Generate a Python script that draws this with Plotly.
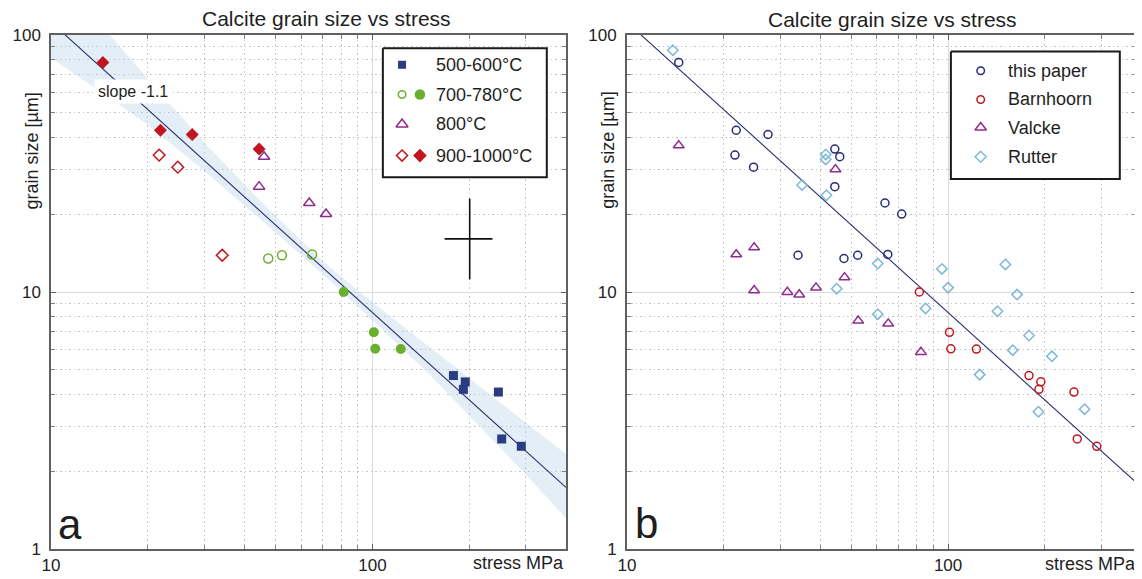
import numpy as np
import plotly.graph_objects as go

# ---------------- data (stress in MPa, grain size in µm) ----------------
# panel a, grouped by temperature (open symbols: this paper, filled: Barnhoorn)
T500_STRESS = [178.6, 194.4, 191.8, 246.5, 252.4, 290.4]
T500_GRAIN = [4.73, 4.47, 4.18, 4.08, 2.68, 2.51]
T700_OPEN_STRESS = [47.4, 52.3, 64.9]
T700_OPEN_GRAIN = [13.5, 13.9, 14.0]
T700_FILL_STRESS = [81.4, 101.0, 102.0, 122.5]
T700_FILL_GRAIN = [10.0, 6.97, 6.01, 6.0]
T800_STRESS = [46.0, 44.4, 63.6, 71.7]
T800_GRAIN = [33.6, 25.7, 22.2, 20.1]
T900_OPEN_STRESS = [21.7, 24.8, 34.1]
T900_OPEN_GRAIN = [34.1, 30.6, 13.9]
T900_FILL_STRESS = [14.5, 21.9, 27.5, 44.4]
T900_FILL_GRAIN = [78.2, 42.6, 41.0, 36.0]

# panel b, by source
VALCKE_STRESS = [14.5, 21.9, 24.9, 24.9, 31.6, 34.4, 38.8, 47.6, 44.6, 52.5, 65.1, 82.3]
VALCKE_GRAIN = [37.2, 14.0, 14.9, 10.15, 10.0, 9.77, 10.4, 11.4, 30.0, 7.73, 7.53, 5.84]
RUTTER_STRESS = [13.9, 41.6, 41.6, 35.1, 41.8, 60.4, 45.0, 95.7, 100.0, 150.8,
                 163.9, 85.1, 60.4, 142.5, 178.6, 158.9, 210.5, 125.4, 191.1, 266.0]
RUTTER_GRAIN = [87.3, 34.3, 32.8, 26.1, 23.8, 12.9, 10.3, 12.3, 10.4, 12.8,
                9.77, 8.63, 8.2, 8.42, 6.77, 5.94, 5.62, 4.77, 3.42, 3.5]

# piezometer fit  d = A * sigma^n
FIT_A = 1514.0
FIT_N = -1.13
FIT_STRESS = [10.0, 400.0]

# confidence band
BAND_STRESS = [10, 15, 20, 30, 45, 70, 100, 150, 200, 300, 400]
BAND_UPPER = [177.8, 102.6, 67.6, 38.1, 22.5, 13.18, 9.12, 6.11, 4.62, 3.10, 2.34]
BAND_LOWER = [81.3, 57.7, 44.7, 29.6, 19.1, 11.75, 7.76, 4.80, 3.31, 1.95, 1.32]

# error cross
ERR_STRESS, ERR_GRAIN = 200.7, 16.1
ERR_STRESS_LOHI = (167.7, 236.3)
ERR_GRAIN_LOHI = (11.2, 23.1)

LEGEND_A = ["500-600°C", "700-780°C", "800°C", "900-1000°C"]
LEGEND_B = ["this paper", "Barnhoorn", "Valcke", "Rutter"]
TITLE = "Calcite grain size vs stress"
X_TICKS = [10, 100]
Y_TICKS = [1, 10, 100]

# ---------------- styles ----------------
FONT = "Liberation Sans, Arial, Helvetica, sans-serif"
NAVY = "#2b3c80"
NAVY2 = "#2a2a78"
GREEN = "#6cae2d"
PURPLE = "#8e2c8e"
RED = "#c1161e"
LBLUE = "#7db9d6"
LINE = "#2d2e6e"

# page geometry: the page body has an 8px margin, so the figure starts at (8, 8)
OFF = 8
W, H = 1142 - OFF, 579 - OFF
ML, MR, MT, MB = 46 - OFF, 4, 35 - OFF, 26
PW, PH = W - ML - MR, H - MT - MB
# plot area in page pixels
PX0, PX1 = ML + OFF, ML + OFF + PW
PY0, PY1 = MT + OFF, MT + OFF + PH

def px_x(px):
    return (px - PX0) / PW

def px_y(py):
    return 1 - (py - PY0) / PH

fig = go.Figure()

def pts(x, y, xa, ya, symbol, color, size, lw=1.5):
    fig.add_trace(go.Scatter(
        x=x, y=y, xaxis=xa, yaxis=ya, mode="markers", showlegend=False,
        hoverinfo="skip",
        marker=dict(symbol=symbol, color=color, size=size,
                    line=dict(width=lw if symbol.endswith("open") else 0, color=color))))

# ---- panel a ----
bx = list(BAND_STRESS) + list(BAND_STRESS[::-1])
by = list(BAND_UPPER) + list(BAND_LOWER[::-1])
fig.add_trace(go.Scatter(x=bx, y=by, xaxis="x", yaxis="y", fill="toself",
                         fillcolor="rgba(185,212,235,0.40)", line=dict(width=0),
                         mode="lines", showlegend=False, hoverinfo="skip"))
fit_x = np.array(FIT_STRESS)
fit_y = FIT_A * fit_x ** FIT_N
fig.add_trace(go.Scatter(x=fit_x, y=fit_y, xaxis="x", yaxis="y", mode="lines",
                         line=dict(color=LINE, width=1.1), showlegend=False, hoverinfo="skip"))
fig.add_trace(go.Scatter(
    x=[ERR_STRESS], y=[ERR_GRAIN], xaxis="x", yaxis="y", mode="markers",
    marker=dict(size=1, color="rgba(0,0,0,0)"), showlegend=False, hoverinfo="skip",
    error_x=dict(type="data", symmetric=False, array=[ERR_STRESS_LOHI[1] - ERR_STRESS],
                 arrayminus=[ERR_STRESS - ERR_STRESS_LOHI[0]], color="#111111",
                 thickness=1.6, width=0),
    error_y=dict(type="data", symmetric=False, array=[ERR_GRAIN_LOHI[1] - ERR_GRAIN],
                 arrayminus=[ERR_GRAIN - ERR_GRAIN_LOHI[0]], color="#111111",
                 thickness=1.6, width=0)))

pts(T900_OPEN_STRESS, T900_OPEN_GRAIN, "x", "y", "diamond-open", RED, 9)
pts(T900_FILL_STRESS, T900_FILL_GRAIN, "x", "y", "diamond", RED, 10)
pts(T800_STRESS, T800_GRAIN, "x", "y", "triangle-up-open", PURPLE, 10)
pts(T700_OPEN_STRESS, T700_OPEN_GRAIN, "x", "y", "circle-open", GREEN, 9)
pts(T700_FILL_STRESS, T700_FILL_GRAIN, "x", "y", "circle", GREEN, 10)
pts(T500_STRESS, T500_GRAIN, "x", "y", "square", NAVY, 9)

# ---- panel b ----
fig.add_trace(go.Scatter(x=fit_x, y=fit_y, xaxis="x2", yaxis="y2", mode="lines",
                         line=dict(color=LINE, width=1.1), showlegend=False, hoverinfo="skip"))
PAPER_STRESS = T900_OPEN_STRESS + T900_FILL_STRESS + T800_STRESS + T700_OPEN_STRESS
PAPER_GRAIN = T900_OPEN_GRAIN + T900_FILL_GRAIN + T800_GRAIN + T700_OPEN_GRAIN
BARN_STRESS = T700_FILL_STRESS + T500_STRESS
BARN_GRAIN = T700_FILL_GRAIN + T500_GRAIN
pts(RUTTER_STRESS, RUTTER_GRAIN, "x2", "y2", "diamond-open", LBLUE, 8)
pts(VALCKE_STRESS, VALCKE_GRAIN, "x2", "y2", "triangle-up-open", PURPLE, 9.5)
pts(BARN_STRESS, BARN_GRAIN, "x2", "y2", "circle-open", RED, 8)
pts(PAPER_STRESS, PAPER_GRAIN, "x2", "y2", "circle-open", NAVY2, 8)

# ---- legends drawn in a pixel-coordinate overlay (x3/y3, page pixels) ----
def box(x0, x1, y0, y1):
    fig.add_trace(go.Scatter(x=[x0, x1, x1, x0, x0], y=[y0, y0, y1, y1, y0],
                             xaxis="x3", yaxis="y3", mode="lines", fill="toself",
                             fillcolor="white", line=dict(color="#1a1a1a", width=2),
                             showlegend=False, hoverinfo="skip"))

def lmark(x, y, symbol, color, size):
    pts([x], [y], "x3", "y3", symbol, color, size)

annotations = []

def text(x, y, s, size=18, xanchor="left", yanchor="middle", angle=0, bg=None, pad=1):
    d = dict(x=px_x(x), y=px_y(y), xref="paper", yref="paper", text=s, showarrow=False,
             xanchor=xanchor, yanchor=yanchor, textangle=angle,
             font=dict(family=FONT, size=size, color="#1e1e1e"), borderpad=pad)
    if bg:
        d["bgcolor"] = bg
    annotations.append(d)

box(380, 545, 48.3, 178.3)
rows_a = [65, 95, 125, 156.5]
lmark(399.3, rows_a[0], "square", NAVY, 8)
lmark(399.3, rows_a[1], "circle-open", GREEN, 7.5)
lmark(417.3, rows_a[1], "circle", GREEN, 10.5)
lmark(399.3, rows_a[2], "triangle-up-open", PURPLE, 10.5)
lmark(399.3, rows_a[3], "diamond-open", RED, 8.5)
lmark(417.3, rows_a[3], "diamond", RED, 10.5)
for lab, yy in zip(LEGEND_A, rows_a):
    text(431, yy, lab)

box(951.7, 1121.7, 51.7, 180)
rows_b = [71, 100, 128.3, 157.7]
lmark(981.7, rows_b[0], "circle-open", NAVY2, 7.5)
lmark(981.7, rows_b[1], "circle-open", RED, 7.5)
lmark(981.7, rows_b[2], "triangle-up-open", PURPLE, 10)
lmark(981.7, rows_b[3], "diamond-open", LBLUE, 8.5)
for lab, yy in zip(LEGEND_B, rows_b):
    text(1007.5, yy, lab)

# titles, labels
text(323.5, 18, TITLE, size=21, xanchor="center")
text(892.7, 19, TITLE, size=21, xanchor="center")
text(26.7, 151.7, "grain size [µm]", size=18, xanchor="center", angle=-90)
text(606.6, 151.6, "grain size [µm]", size=18, xanchor="center", angle=-90)
text(564, 567.5, "stress MPa", size=18, xanchor="right")
text(1140.5, 568.5, "stress MPa", size=18, xanchor="right")
text(65, 528, "a", size=42, xanchor="center")
text(645, 527, "b", size=42, xanchor="center")
text(128.3, 92.2, "slope -1.1", size=16, xanchor="center", bg="white", pad=3)

# ---------------- axes ----------------
minor_x = [20, 30, 40, 50, 60, 70, 80, 90, 200, 300]
minor_y = [2, 3, 4, 5, 6, 7, 8, 9, 20, 30, 40, 50, 60, 70, 80, 90]

def log_axis(vals, labels, minor_vals, rng, domain, anchor, standoff):
    return dict(type="log", range=rng, domain=domain, anchor=anchor,
                tickmode="array", tickvals=vals, ticktext=labels,
                showline=True, linecolor="#606060", linewidth=1.5, mirror="ticks",
                ticks="inside", ticklen=5, tickwidth=1, tickcolor="#606060",
                showgrid=True, gridcolor="#dcdcdc", gridwidth=1, zeroline=False,
                ticklabelstandoff=standoff,
                tickfont=dict(family=FONT, size=17, color="#222222"),
                minor=dict(tickmode="array", tickvals=minor_vals, ticks="inside",
                           ticklen=4, tickwidth=1, tickcolor="#808080",
                           showgrid=True, gridcolor="#c4c4c4", gridwidth=1,
                           griddash="1.5px,3px"))

xt = [str(v) for v in X_TICKS]
yt = [str(v) for v in Y_TICKS]
fig.update_layout(
    width=W, height=H,
    margin=dict(l=ML, r=MR, t=MT, b=MB),
    paper_bgcolor="white", plot_bgcolor="rgba(0,0,0,0)",
    font=dict(family=FONT, color="#222222"),
    showlegend=False,
    xaxis=log_axis(X_TICKS, xt, minor_x, [1, np.log10(400)], [0, px_x(564.3)], "y", 0),
    yaxis=log_axis(Y_TICKS, yt, minor_y, [0, 2], [0, 1], "x", 5),
    xaxis2=log_axis(X_TICKS, xt, minor_x, [1, 2.585], [px_x(625.6), 1], "y2", 0),
    yaxis2=log_axis(Y_TICKS, yt, minor_y, [0, 2], [0, 1], "x2", 5),
    xaxis3=dict(range=[PX0, PX1], domain=[0, 1], anchor="y3", visible=False, fixedrange=True),
    yaxis3=dict(range=[PY1, PY0], domain=[0, 1], anchor="x3", visible=False, fixedrange=True),
    annotations=annotations,
)

fig.write_html("out.html")
